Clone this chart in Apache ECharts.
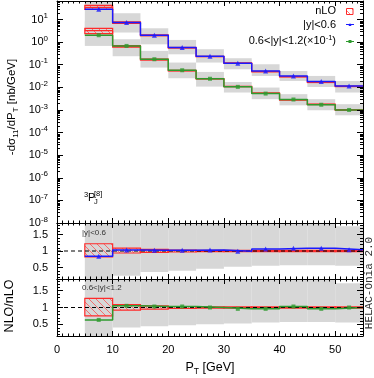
<!DOCTYPE html>
<html><head><meta charset="utf-8">
<script src="https://cdn.jsdelivr.net/npm/echarts@6/dist/echarts.min.js"></script>
<style>html,body{margin:0;padding:0;background:#fff}#c{width:374px;height:378px}</style>
</head><body><div id="c"></div>
<script>
// ---------- data ----------
const binLo = [5,10,15,20,25,30,35,40,45,50];
const binHi = [10,15,20,25,30,35,40,45,50,55];
const binMid = [7.5,12.5,17.5,22.5,27.5,32.5,37.5,42.5,47.5,52.5];
const xTickLabels = [0,10,20,30,40,50];
const ratioTickLabels = [0.5,1,1.5];

// NLO central values (main panel)
const nloY06 = [28.6,7.4,2.02,0.577,0.238,0.116,0.053,0.032,0.018,0.0115];
const nloY12 = [2.02,0.68,0.175,0.057,0.024,0.0105,0.0053,0.0029,0.0017,0.001];
// nLO central values (main panel)
const nLOY06 = [34.5,7.2,1.98,0.565,0.231,0.117,0.050,0.0296,0.0167,0.011];
const nLOY12 = [3.2,0.65,0.17,0.055,0.024,0.0109,0.0055,0.0028,0.00177,0.001];
// NLO uncertainty bands (grey, main panel)
const bandY06Lo = [4.6,2.66,0.8,0.29,0.125,0.063,0.032,0.0192,0.0104,0.0059];
const bandY06Hi = [130,19,4.1,1.25,0.485,0.194,0.105,0.053,0.032,0.0192];
const bandY12Lo = [0.68,0.238,0.075,0.0253,0.0108,0.0059,0.003,0.0016,0.00097,0.00058];
const bandY12Hi = [8.4,1.34,0.41,0.125,0.048,0.0173,0.0098,0.005,0.003,0.0018];
// ratio NLO/nLO
const ratioY06 = [0.84,1.03,1.02,1.02,1.03,0.99,1.06,1.08,1.08,1.04];
const ratioY12 = [0.63,1.05,1.03,1.03,1.00,0.96,0.96,1.03,0.96,1.00];
// nLO relative uncertainty (red hatched)
const relLoY06 = [0.82,0.94,0.96,0.97,0.98,0.98,0.98,0.98,0.98,0.98];
const relHiY06 = [1.22,1.09,1.05,1.03,1.02,1.02,1.02,1.02,1.02,1.02];
const relLoY12 = [0.75,0.92,0.95,0.97,0.98,0.98,0.98,0.98,0.98,0.98];
const relHiY12 = [1.27,1.09,1.05,1.03,1.02,1.02,1.02,1.02,1.02,1.02];
// grey bands in ratio panels
const rGrayLoY06 = [0.05,0.25,0.36,0.40,0.46,0.52,0.55,0.57,0.57,0.55];
const rGrayHiY06 = [2.5,2.5,2.5,2.5,2.5,2.5,2.5,2.5,2.5,1.75];
const rGrayLoY12 = [0.05,0.40,0.44,0.47,0.50,0.52,0.55,0.57,0.57,0.55];
const rGrayHiY12 = [2.5,2.5,2.5,2.5,2.5,2.5,2.5,2.5,2.5,1.72];
const refLine = 1;

// ---------- helpers ----------
const FONT = '"Liberation Sans", Arial, sans-serif';
const BLUE = '#1a1aff', GREEN = '#2f9a2f', RED = '#ff2a2a', GRAY = '#d7d7d7';

const hatch = document.createElement('canvas');
hatch.width = 7; hatch.height = 7;
(function(){const c = hatch.getContext('2d'); c.strokeStyle = 'rgba(255,60,60,0.75)'; c.lineWidth = 0.9;
 c.beginPath(); c.moveTo(-1,-1); c.lineTo(8,8); c.moveTo(-1,6); c.lineTo(1,8); c.moveTo(6,-1); c.lineTo(8,1); c.stroke();})();
const hatchFill = {image: hatch, repeat: 'repeat'};

function rectRender(styleFn){
  return function(params, api){
    const cs = params.coordSys;
    const p0 = api.coord([api.value(0), api.value(3)]);
    const p1 = api.coord([api.value(1), api.value(2)]);
    const r = echarts.graphic.clipRectByRect(
      {x:p0[0], y:p0[1], width:p1[0]-p0[0], height:p1[1]-p0[1]},
      {x:cs.x, y:cs.y, width:cs.width, height:cs.height});
    if (!r) return null;
    return {type:'rect', shape:r, style:styleFn()};
  };
}
function bandData(lo, hi){ return binLo.map((l,i)=>[l, binHi[i], lo[i], hi[i]]); }
function relData(c, lo, hi){ return binLo.map((l,i)=>[l, binHi[i], c ? c[i]*lo[i] : lo[i], c ? c[i]*hi[i] : hi[i]]); }
function stepData(v){ const d = binLo.map((l,i)=>[l, v[i]]); d.push([binHi[binHi.length-1], v[v.length-1]]); return d; }
function ptData(v){ return binMid.map((m,i)=>[m, v[i]]); }

function tickRender(len){
  return function(params, api){
    const cs = params.coordSys;
    const p = api.coord([0, api.value(1)]);
    const y = Math.round(p[1]) + 0.5;
    if (y < cs.y || y > cs.y + cs.height) return null;
    return {type:'group', children:[
      {type:'line', shape:{x1:cs.x, y1:y, x2:cs.x+len, y2:y}, style:{stroke:'#000', lineWidth:1}},
      {type:'line', shape:{x1:cs.x+cs.width-len, y1:y, x2:cs.x+cs.width, y2:y}, style:{stroke:'#000', lineWidth:1}}
    ]};
  };
}
const logMinor = [];
for (let e = -8; e <= 1; e++) for (let k = 2; k <= 9; k++) logMinor.push([0, k*Math.pow(10,e)]);
const ratioMinor = [];
for (let k = 2; k <= 18; k++) if (k !== 5 && k !== 10 && k !== 15) ratioMinor.push([0, k/10]);

function xAx(grid, pos, labels){
  return {type:'value', gridIndex:grid, position:pos, min:0, max:55, interval:10, z:6,
    axisLine:{show:true, onZero:false, lineStyle:{color:'#000', width:1}},
    axisTick:{show:true, inside:true, length:5, lineStyle:{color:'#000'}},
    minorTick:{show:true, splitNumber:10, length:2.5, lineStyle:{color:'#000'}},
    splitLine:{show:false}, minorSplitLine:{show:false},
    axisLabel:{show:labels, margin:8, fontSize:11, color:'#000', fontFamily:FONT,
      formatter: v => xTickLabels.includes(v) ? String(v) : ''}};
}
function logAx(pos, labels){
  return {type:'log', logBase:10, gridIndex:0, position:pos, min:1e-8, max:66, splitNumber:10, z:6,
    axisLine:{show:true, onZero:false, lineStyle:{color:'#000', width:1}},
    axisTick:{show:true, inside:true, length:6, lineStyle:{color:'#000'}},
    splitLine:{show:false},
    axisLabel:{show:labels, margin:9, color:'#000', fontFamily:FONT,
      formatter: v => { const l = Math.log10(v), e = Math.round(l);
        if (Math.abs(l-e) > 0.01) return ''; return '{b|10}{s|' + e + '}'; },
      rich:{b:{fontSize:11, fontFamily:FONT, color:'#000', verticalAlign:'middle'},
            s:{fontSize:8, fontFamily:FONT, color:'#000', verticalAlign:'middle', padding:[0,0,7,0]}}}};
}
function ratioAx(grid, pos, labels){
  return {type:'value', gridIndex:grid, position:pos, min:0.15, max:1.85, z:6,
    axisLine:{show:true, onZero:false, lineStyle:{color:'#000', width:1}},
    axisTick:{show:true, inside:true, length:6, customValues:ratioTickLabels, lineStyle:{color:'#000'}},
    splitLine:{show:false},
    axisLabel:{show:labels, margin:9, fontSize:11, color:'#000', fontFamily:FONT,
      customValues:ratioTickLabels, formatter: v => String(v)}};
}

const series = [];
function addPanel(xi, yi, parts){
  parts.forEach(p => series.push(Object.assign({xAxisIndex:xi, yAxisIndex:yi, silent:true, animation:false}, p)));
}
const grayStyle = () => ({fill:GRAY});
const redStyle = () => ({fill:hatchFill, stroke:RED, lineWidth:1.2});

// main panel
addPanel(0, 0, [
  {type:'custom', z:1, renderItem:rectRender(grayStyle), encode:{x:[0,1], y:[2,3]}, data:bandData(bandY06Lo, bandY06Hi)},
  {type:'custom', z:1, renderItem:rectRender(grayStyle), encode:{x:[0,1], y:[2,3]}, data:bandData(bandY12Lo, bandY12Hi)},
  {type:'custom', z:2, renderItem:rectRender(redStyle), encode:{x:[0,1], y:[2,3]}, data:relData(nLOY06, relLoY06, relHiY06)},
  {type:'custom', z:2, renderItem:rectRender(redStyle), encode:{x:[0,1], y:[2,3]}, data:relData(nLOY12, relLoY12, relHiY12)},
  {type:'line', z:3, step:'end', showSymbol:false, lineStyle:{color:RED, width:1.2}, data:stepData(nLOY06)},
  {type:'line', z:3, step:'end', showSymbol:false, lineStyle:{color:RED, width:1.2}, data:stepData(nLOY12)},
  {type:'line', z:4, step:'end', showSymbol:false, lineStyle:{color:BLUE, width:1.5}, data:stepData(nloY06)},
  {type:'line', z:4, step:'end', showSymbol:false, lineStyle:{color:GREEN, width:1.5}, data:stepData(nloY12)},
  {type:'scatter', z:5, symbol:'triangle', symbolSize:5, itemStyle:{color:BLUE}, data:ptData(nloY06)},
  {type:'scatter', z:5, symbol:'rect', symbolSize:4, itemStyle:{color:GREEN}, data:ptData(nloY12)},
  {type:'custom', z:6, renderItem:tickRender(3), encode:{x:0, y:1}, data:logMinor}
]);
// ratio |y|<0.6
addPanel(2, 2, [
  {type:'custom', z:1, renderItem:rectRender(grayStyle), encode:{x:[0,1], y:[2,3]}, data:bandData(rGrayLoY06, rGrayHiY06)},
  {type:'custom', z:2, renderItem:rectRender(redStyle), encode:{x:[0,1], y:[2,3]}, data:relData(null, relLoY06, relHiY06)},
  {type:'line', z:3, showSymbol:false, lineStyle:{color:'#000', width:1, type:[4,3]}, data:[[0,refLine],[55,refLine]]},
  {type:'line', z:4, step:'end', showSymbol:false, lineStyle:{color:BLUE, width:1.5}, data:stepData(ratioY06)},
  {type:'scatter', z:5, symbol:'triangle', symbolSize:5, itemStyle:{color:BLUE}, data:ptData(ratioY06)},
  {type:'custom', z:6, renderItem:tickRender(3), encode:{x:0, y:1}, data:ratioMinor}
]);
// ratio 0.6<|y|<1.2
addPanel(4, 4, [
  {type:'custom', z:1, renderItem:rectRender(grayStyle), encode:{x:[0,1], y:[2,3]}, data:bandData(rGrayLoY12, rGrayHiY12)},
  {type:'custom', z:2, renderItem:rectRender(redStyle), encode:{x:[0,1], y:[2,3]}, data:relData(null, relLoY12, relHiY12)},
  {type:'line', z:3, showSymbol:false, lineStyle:{color:'#000', width:1, type:[4,3]}, data:[[0,refLine],[55,refLine]]},
  {type:'line', z:4, step:'end', showSymbol:false, lineStyle:{color:GREEN, width:1.5}, data:stepData(ratioY12)},
  {type:'scatter', z:5, symbol:'rect', symbolSize:4, itemStyle:{color:GREEN}, data:ptData(ratioY12)},
  {type:'custom', z:6, renderItem:tickRender(3), encode:{x:0, y:1}, data:ratioMinor}
]);

const txt = (x, y, text, size, extra) => ({type:'text', x, y, z:20, silent:true,
  style:Object.assign({text, font: size + 'px ' + FONT, fill:'#000', align:'left', verticalAlign:'middle'}, extra || {})});

const graphic = [
  // y-title main
  {type:'text', x:12, y:107, rotation:Math.PI/2, z:20, silent:true,
   style:{text:'{n|-dσ}{s|11}{n|/dP}{s|T}{n| [nb/GeV]}', align:'center', verticalAlign:'middle', fill:'#000',
     rich:{n:{fontSize:11.5, fontFamily:FONT, verticalAlign:'middle'}, s:{fontSize:8, fontFamily:FONT, verticalAlign:'middle', padding:[7,0,0,0]}}}},
  // y-title ratio
  {type:'text', x:10, y:306, rotation:Math.PI/2, z:20, silent:true,
   style:{text:'NLO/nLO', font:'12.5px ' + FONT, align:'center', verticalAlign:'middle', fill:'#000'}},
  // x-title
  {type:'text', x:210, y:368, z:20, silent:true,
   style:{text:'{n|P}{s|T}{n| [GeV]}', align:'center', verticalAlign:'middle', fill:'#000',
     rich:{n:{fontSize:12.5, fontFamily:FONT, verticalAlign:'middle'}, s:{fontSize:8.5, fontFamily:FONT, verticalAlign:'middle', padding:[7,0,0,0]}}}},
  // HELAC-Onia
  {type:'text', x:369, y:283, rotation:Math.PI/2, z:20, silent:true,
   style:{text:'HELAC-Onia 2.0', font:'11px "Liberation Mono", "DejaVu Sans Mono", monospace', align:'center', verticalAlign:'middle', fill:'#333'}},
  // state label
  txt(84, 195, '3', 7.5),
  txt(88, 197.5, 'P', 11),
  txt(94, 194, '[8]', 7.5),
  txt(94, 202, 'J', 7.5),
  // ratio panel labels
  txt(82, 233, '|y|<0.6', 8, {fill:'#333'}),
  txt(82, 288, '0.6<|y|<1.2', 8, {fill:'#333'}),
  // legend
  txt(336, 11, 'nLO', 11, {align:'right'}),
  txt(336, 24.5, '|y|<0.6', 11, {align:'right'}),
  {type:'text', x:336, y:41, z:20, silent:true,
   style:{text:'{n|0.6<|y|<1.2(×10}{s|-1}{n|)}', align:'right', verticalAlign:'middle', fill:'#000',
     rich:{n:{fontSize:11, fontFamily:FONT, verticalAlign:'middle'}, s:{fontSize:7.5, fontFamily:FONT, verticalAlign:'middle', padding:[0,0,6,0]}}}},
  {type:'rect', z:20, silent:true, shape:{x:346.5, y:8.5, width:6.5, height:6}, style:{fill:hatchFill, stroke:RED, lineWidth:1}},
  {type:'line', z:20, silent:true, shape:{x1:346, y1:24.5, x2:354, y2:24.5}, style:{stroke:BLUE, lineWidth:1}},
  {type:'polygon', z:20, silent:true, shape:{points:[[348.5,26],[351.5,26],[350,23]]}, style:{fill:BLUE}},
  {type:'line', z:20, silent:true, shape:{x1:346, y1:41.5, x2:354, y2:41.5}, style:{stroke:GREEN, lineWidth:1}},
  {type:'rect', z:20, silent:true, shape:{x:348.5, y:40, width:3, height:3}, style:{fill:GREEN}}
];

const option = {
  animation:false,
  textStyle:{fontFamily:FONT},
  grid:[
    {left:57, top:1, width:306, height:222, show:false},
    {left:57, top:223, width:306, height:56, show:false},
    {left:57, top:279, width:306, height:57, show:false}
  ],
  xAxis:[xAx(0,'bottom',false), xAx(0,'top',false), xAx(1,'bottom',false), xAx(1,'top',false), xAx(2,'bottom',true), xAx(2,'top',false)],
  yAxis:[logAx('left',true), logAx('right',false), ratioAx(1,'left',true), ratioAx(1,'right',false), ratioAx(2,'left',true), ratioAx(2,'right',false)],
  series: series,
  graphic: graphic
};
const chart = echarts.init(document.getElementById('c'), null, {renderer:'canvas'});
chart.setOption(option);
</script>
</body></html>
